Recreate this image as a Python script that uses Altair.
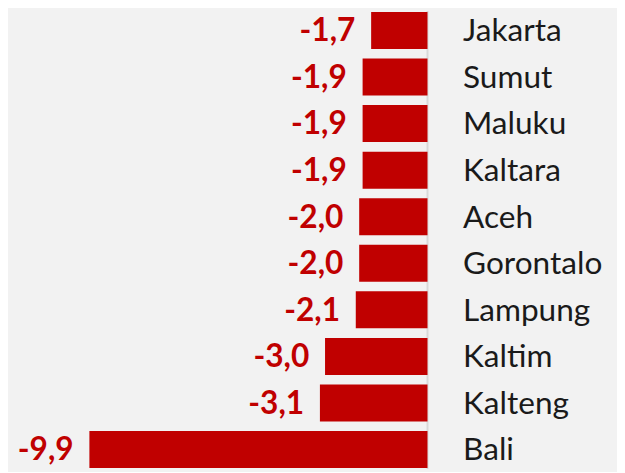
import altair as alt
import pandas as pd

regions = ["Jakarta", "Sumut", "Maluku", "Kaltara", "Aceh", "Gorontalo",
           "Lampung", "Kaltim", "Kalteng", "Bali"]
values = [-1.65, -1.9, -1.9, -1.9, -2.0, -2.0, -2.1, -3.0, -3.15, -9.9]
labels = ["-1,7", "-1,9", "-1,9", "-1,9", "-2,0", "-2,0", "-2,1", "-3,0", "-3,1", "-9,9"]

df = pd.DataFrame({"region": regions, "value": values, "label": labels})

ppu = 34.6
zero_px = 425
W = 617
x_scale = alt.Scale(domain=[-zero_px / ppu, (W - zero_px) / ppu], nice=False, zero=False)
y_scale = alt.Scale(domain=regions, paddingInner=0.205, paddingOuter=0.02)

base = alt.Chart(df).encode(
    y=alt.Y("region:N", scale=y_scale, axis=None, sort=regions)
)

bars = base.mark_bar(color="#c00000").encode(
    x=alt.X("value:Q", scale=x_scale, axis=None),
    x2=alt.datum(0),
)

zero_line = alt.Chart(pd.DataFrame({"z": [0]})).mark_rule(
    color="#d9d9d9", strokeWidth=2
).encode(x=alt.X("z:Q", scale=x_scale, axis=None))

val_text = base.mark_text(
    align="right", baseline="middle", dx=-16, dy=1, fontSize=32, fontWeight="bold",
    font="Lato", color="#c00000"
).encode(x=alt.X("value:Q", scale=x_scale, axis=None), text="label:N")

cat_text = base.mark_text(
    align="left", baseline="middle", dx=36, dy=1, fontSize=32, font="Lato",
    color="#1a1a1a"
).encode(x=alt.datum(0, scale=x_scale), text="region:N")

chart = alt.layer(zero_line, bars, val_text, cat_text).properties(
    width=W, height=464,
    background="#f2f2f2",
    padding=0,
    autosize=alt.AutoSizeParams(type="none"),
).configure_view(stroke=None)

chart.save("out.html", embed_options={"renderer": "svg", "actions": False})
